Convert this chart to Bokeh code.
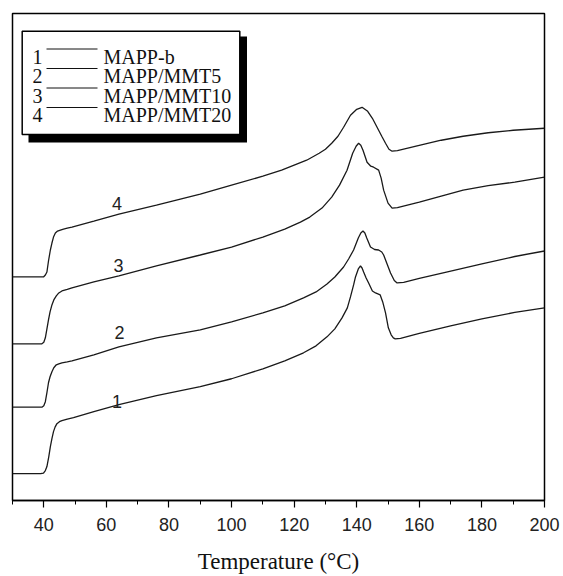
from bokeh.plotting import figure
from bokeh.models import Label, BoxAnnotation, Arrow, Range1d, FixedTicker
from bokeh.core.properties import value
from bokeh.embed import file_html
from bokeh.resources import INLINE

# ---------------- data ----------------
# Temperature (deg C) and heat flow (arbitrary units, curves offset)
t1 = [30, 36, 39.0, 39.9, 40.5, 41.0, 41.6, 42.1, 42.6, 43.1, 43.6, 44.2, 45.0, 45.8, 47.5, 49.5,
      56, 64, 76, 90, 100, 110, 117, 123, 127, 130.5, 133, 135.3, 137, 138, 139, 139.6, 140.5,
      141.2, 141.7, 142.2, 143, 143.8, 145, 146, 147.5, 148.3, 149.2, 150.1, 151, 151.7, 152.3,
      154, 160, 170, 180, 190.5, 200]
h1 = [2.7, 2.7, 2.7, 2.75, 3.0, 3.4, 4.4, 5.4, 6.2, 6.9, 7.35, 7.7, 7.9, 8.0, 8.15, 8.3,
      8.9, 9.6, 10.5, 11.4, 12.2, 13.2, 14.0, 14.8, 15.5, 16.4, 17.2, 18.3, 19.3, 20.4, 21.6, 22.4, 23.2,
      23.5, 23.3, 22.9, 22.3, 21.8, 21.0, 20.8, 20.6, 19.9, 18.8, 17.3, 16.6, 16.3, 16.2,
      16.25, 16.75, 17.5, 18.2, 18.85, 19.3]

t2 = [30, 36, 39.4, 40.0, 40.5, 41.0, 41.5, 42.0, 42.6, 43.2, 44.0, 44.8, 45.8, 47.5, 49,
      56, 64, 76, 90, 100, 110, 117, 123, 127, 130.5, 133, 135.8, 137.4, 139, 140.5, 141.3, 142,
      142.6, 143.2, 144.4, 145.7, 147, 148, 148.6, 149.7, 150.8, 152, 152.9, 155, 160, 169, 180,
      190.5, 200]
h2 = [9.35, 9.35, 9.35, 9.5, 9.9, 10.8, 11.8, 12.4, 12.9, 13.3, 13.6, 13.7, 13.8, 13.9, 14.0,
      14.6, 15.4, 16.3, 17.1, 17.9, 18.8, 19.5, 20.3, 20.9, 21.7, 22.4, 23.4, 24.2, 25.1, 26.3, 26.8, 27.0,
      26.8, 26.3, 25.4, 25.15, 25.1, 24.9, 24.6, 23.7, 22.8, 22.05, 21.8, 21.85, 22.25, 22.9, 23.7,
      24.45, 25.0]

t3 = [30, 36, 39.4, 40.0, 40.5, 41.0, 41.5, 42.0, 42.6, 43.2, 44.0, 44.8, 45.8, 47.5, 49,
      56, 64, 76, 90, 100, 110, 117, 122, 125, 128.9, 132, 134.5, 136.9, 138.7, 139.8, 140.6,
      141.3, 142, 143.3, 144.5, 145.4, 147, 147.8, 148.6, 150, 151.3, 153, 160, 167, 174, 182,
      190.5, 200]
h3 = [15.7, 15.7, 15.7, 15.85, 16.3, 17.2, 18.1, 18.9, 19.6, 20.1, 20.5, 20.8, 21.0, 21.15, 21.3,
      21.9, 22.5, 23.5, 24.6, 25.4, 26.4, 27.2, 27.9, 28.4, 29.3, 30.4, 31.6, 33.1, 34.8, 35.5, 35.8,
      35.6, 35.1, 33.9, 33.5, 33.4, 33.1, 32.3, 31.1, 29.8, 29.3, 29.35, 29.9, 30.5, 31.1, 31.55,
      31.9, 32.4]

t4 = [30, 36, 39.9, 40.5, 41.0, 41.5, 42.1, 42.6, 43.1, 43.7, 44.4, 45.3, 46.3, 47.5, 49,
      56, 64, 76, 90, 100, 110, 116, 120, 124, 128, 130, 132, 134, 135.8, 138, 140, 141.7, 143.5,
      145, 146.5, 148, 149.2, 150.3, 151.3, 153, 160.3, 167, 174, 182, 190, 200]
h4 = [22.4, 22.4, 22.4, 22.6, 22.9, 24.0, 25.1, 25.8, 26.4, 26.8, 27.0, 27.1, 27.2, 27.3, 27.4,
      28.0, 28.7, 29.6, 30.7, 31.6, 32.5, 33.1, 33.6, 34.1, 34.8, 35.2, 35.8, 36.5, 37.4, 38.6, 39.2, 39.4, 39.0,
      38.3, 37.4, 36.5, 35.8, 35.2, 35.0, 35.05, 35.6, 36.1, 36.5, 36.85, 37.1, 37.3]

curve_labels = ["1", "2", "3", "4"]
label_t = [63.4, 64.2, 63.9, 63.4]
label_h = [9.93, 16.83, 23.53, 29.75]

legend_names = ["MAPP-b", "MAPP/MMT5", "MAPP/MMT10", "MAPP/MMT20"]

x_ticks = [40, 60, 80, 100, 120, 140, 160, 180, 200]
x_minor = [30, 50, 70, 90, 110, 130, 150, 170, 190]

# ---------------- figure ----------------
W, H = 563, 576
p = figure(width=W, height=H, x_range=Range1d(30, 200), y_range=Range1d(0, 48.8),
           output_backend="svg", toolbar_location=None, y_axis_location=None,
           min_border_left=12, min_border_right=19, min_border_top=13, min_border_bottom=75)
p.grid.visible = False
p.background_fill_color = "white"
p.border_fill_color = "white"
p.outline_line_color = "black"
p.outline_line_width = 1.5
p.outline_line_alpha = 1.0

ax = p.xaxis[0]
ax.ticker = FixedTicker(ticks=x_ticks, minor_ticks=x_minor)
ax.axis_line_color = "black"
ax.axis_line_width = 1.5
ax.major_tick_line_color = "black"
ax.major_tick_line_width = 1.2
ax.major_tick_out = 7
ax.major_tick_in = 0
ax.minor_tick_line_color = "black"
ax.minor_tick_line_width = 1.0
ax.minor_tick_out = 4
ax.minor_tick_in = 0
ax.major_label_text_font = "Liberation Sans"
ax.major_label_text_font_size = "18px"
ax.major_label_text_color = "#222222"
ax.major_label_standoff = 10
ax.axis_label = "Temperature (°C)"
ax.axis_label_text_font = "Liberation Serif"
ax.axis_label_text_font_size = "23px"
ax.axis_label_text_font_style = "normal"
ax.axis_label_text_color = "#111111"
ax.axis_label_standoff = 15

for tt, hh in [(t1, h1), (t2, h2), (t3, h3), (t4, h4)]:
    p.line(tt, hh, line_color="#1a1a1a", line_width=1.3)

p.text(x=label_t, y=label_h, text=curve_labels, text_font=value("Liberation Sans"),
       text_font_size="18px", text_align="center", text_baseline="middle", text_color="#222222")

# ---------------- legend box (screen units, relative to plot frame) ----------------
FL, FB = 12, 501  # page position of frame left / bottom


def sx(px):
    return px - FL


def sy(py):
    return FB - py


p.add_layout(BoxAnnotation(left=sx(28), right=sx(246.5), top=sy(37), bottom=sy(143),
                           left_units="screen", right_units="screen", top_units="screen", bottom_units="screen",
                           fill_color="black", fill_alpha=1.0, line_alpha=0))
p.add_layout(BoxAnnotation(left=sx(21.7), right=sx(239.3), top=sy(31.7), bottom=sy(135),
                           left_units="screen", right_units="screen", top_units="screen", bottom_units="screen",
                           fill_color="white", fill_alpha=1.0, line_color="black", line_alpha=1.0, line_width=1.5))

baselines = [57, 76.5, 96, 115.5]
for i, name in enumerate(legend_names):
    b = baselines[i]
    p.add_layout(Label(x=sx(37), y=sy(b), x_units="screen", y_units="screen", text=curve_labels[i],
                       text_font="Liberation Serif", text_font_size="20px", text_align="center",
                       text_baseline="alphabetic", text_color="#111111"))
    p.add_layout(Arrow(x_start=sx(46), y_start=sy(b - 7.5), x_end=sx(97), y_end=sy(b - 7.5),
                       start_units="screen", end_units="screen", start=None, end=None,
                       line_color="#111111", line_width=1.0))
    p.add_layout(Label(x=sx(103), y=sy(b), x_units="screen", y_units="screen", text=name,
                       text_font="Liberation Serif", text_font_size="20px", text_align="left",
                       text_baseline="alphabetic", text_color="#111111"))

open("out.html", "w").write(file_html(p, INLINE))
